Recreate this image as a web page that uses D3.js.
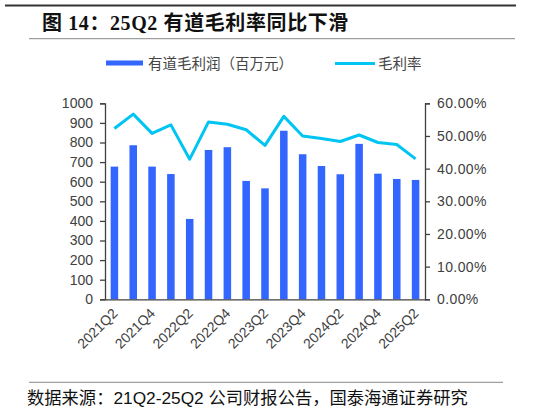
<!DOCTYPE html>
<html><head><meta charset="utf-8">
<script src="https://cdn.jsdelivr.net/npm/d3@7"></script>
<style>
html,body{margin:0;padding:0;background:#fff;}
svg{display:block;}
</style></head>
<body>
<script>
const categories = ["2021Q2","2021Q3","2021Q4","2022Q1","2022Q2","2022Q3","2022Q4","2023Q1","2023Q2","2023Q3","2023Q4","2024Q1","2024Q2","2024Q3","2024Q4","2025Q1","2025Q2"];
const grossProfit = [677,786,677,639,410,762,776,604,566,860,740,680,638,793,641,614,609];
const grossMargin = [0.523,0.567,0.508,0.534,0.429,0.543,0.536,0.519,0.471,0.560,0.500,0.492,0.483,0.503,0.480,0.474,0.430];
const xTickLabels = ["2021Q2","2021Q4","2022Q2","2022Q4","2023Q2","2023Q4","2024Q2","2024Q4","2025Q2"];
const leftTicks = [0,100,200,300,400,500,600,700,800,900,1000];
const rightTicks = [0,0.1,0.2,0.3,0.4,0.5,0.6];
const titleText = "图 14：25Q2 有道毛利率同比下滑";
const legendBar = "有道毛利润（百万元）";
const legendLine = "毛利率";
const sourceText = "数据来源：21Q2-25Q2 公司财报公告，国泰海通证券研究";

const W = 536, H = 412;
const svg = d3.select("body").append("svg").attr("width", W).attr("height", H);

const plotL = 105, plotR = 425, plotT = 103.3, plotB = 299.3;
const x = d3.scaleBand().domain(categories).range([plotL, plotR]).paddingInner(0.6).paddingOuter(0.3);
const y = d3.scaleLinear().domain([0, 1000]).range([plotB, plotT]);
const y2 = d3.scaleLinear().domain([0, 0.6]).range([plotB, plotT]);

const barColor = "#3366FF", lineColor = "#00C5F2", axisColor = "#404040";

// header rules and title
svg.append("line").attr("x1", 5).attr("x2", 516).attr("y1", 5.5).attr("y2", 5.5).attr("stroke", "#333").attr("stroke-width", 2);
svg.append("text").attr("x", 42).attr("y", 30)
  .attr("font-family", "'Liberation Serif','Noto Sans CJK SC',serif").attr("font-weight", "bold")
  .attr("font-size", 20).attr("letter-spacing", 0.6).attr("fill", "#111").text(titleText);
svg.append("line").attr("x1", 29).attr("x2", 515).attr("y1", 38.7).attr("y2", 38.7).attr("stroke", "#888").attr("stroke-width", 1);

// legend
svg.append("rect").attr("x", 106).attr("y", 60.5).attr("width", 37).attr("height", 5).attr("fill", barColor);
svg.append("text").attr("x", 148).attr("y", 69).attr("font-family", "'Noto Sans CJK SC',sans-serif")
  .attr("font-size", 14.5).attr("fill", "#444").text(legendBar);
svg.append("line").attr("x1", 335).attr("x2", 375).attr("y1", 63.5).attr("y2", 63.5).attr("stroke", lineColor).attr("stroke-width", 3);
svg.append("text").attr("x", 378).attr("y", 69).attr("font-family", "'Noto Sans CJK SC',sans-serif")
  .attr("font-size", 14.5).attr("fill", "#444").text(legendLine);

// bars
svg.append("g").selectAll("rect").data(categories).join("rect")
  .attr("x", d => x(d)).attr("width", x.bandwidth())
  .attr("y", (d, i) => y(grossProfit[i])).attr("height", (d, i) => plotB - y(grossProfit[i]))
  .attr("fill", barColor);

// line
const line = d3.line().x((d, i) => x(categories[i]) + x.bandwidth() / 2).y(d => y2(d));
svg.append("path").datum(grossMargin).attr("d", line).attr("fill", "none")
  .attr("stroke", lineColor).attr("stroke-width", 3).attr("stroke-linejoin", "round");

// left axis
const gL = svg.append("g").attr("transform", `translate(${plotL},0)`)
  .call(d3.axisLeft(y).tickValues(leftTicks).tickSize(5).tickSizeOuter(5).tickPadding(7).tickFormat(d3.format("d")));
// right axis
const gR = svg.append("g").attr("transform", `translate(${plotR},0)`)
  .call(d3.axisRight(y2).tickValues(rightTicks).tickSize(5).tickSizeOuter(5).tickPadding(7).tickFormat(d3.format(".2%")));
// bottom axis
const gB = svg.append("g").attr("transform", `translate(0,${plotB})`)
  .call(d3.axisBottom(x).tickValues(xTickLabels).tickSize(0).tickSizeOuter(0).tickPadding(0));

[gL, gR, gB].forEach(g => {
  g.select(".domain").attr("stroke", axisColor).attr("stroke-width", 1.3);
  g.selectAll(".tick line").attr("stroke", axisColor).attr("stroke-width", 1.3);
  g.selectAll(".tick text").attr("font-family", "Arial,'Liberation Sans',sans-serif").attr("font-size", 14).attr("fill", "#404040");
});
gR.selectAll(".tick text").attr("letter-spacing", 0.4);
gB.selectAll(".tick text")
  .attr("text-anchor", "end").attr("dy", null).attr("y", 0)
  .attr("transform", "translate(4,15) rotate(-45)");

// footer
svg.append("line").attr("x1", 29).attr("x2", 503).attr("y1", 382.3).attr("y2", 382.3).attr("stroke", "#888").attr("stroke-width", 1);
svg.append("text").attr("x", 27).attr("y", 404).attr("font-family", "Arial,'Noto Sans CJK SC',sans-serif")
  .attr("font-size", 17.3).attr("fill", "#111").text(sourceText);
</script>
</body></html>
